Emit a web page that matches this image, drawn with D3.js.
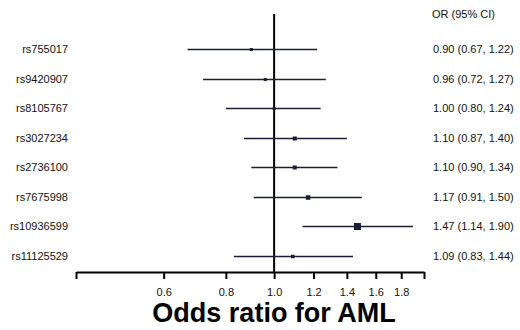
<!DOCTYPE html>
<html>
<head>
<meta charset="utf-8">
<script src="https://cdn.jsdelivr.net/npm/d3@7"></script>
<style>
  body { margin: 0; background: #fff; }
  text { font-family: "Liberation Sans", Arial, sans-serif; }
</style>
</head>
<body>
<svg width="520" height="330"></svg>
<script>
// Data
const snps = ["rs755017", "rs9420907", "rs8105767", "rs3027234", "rs2736100", "rs7675998", "rs10936599", "rs11125529"];
const or = [0.90, 0.96, 1.00, 1.10, 1.10, 1.17, 1.47, 1.09];
const lower = [0.67, 0.72, 0.80, 0.87, 0.90, 0.91, 1.14, 0.83];
const upper = [1.22, 1.27, 1.24, 1.40, 1.34, 1.50, 1.90, 1.44];
const boxSize = [3, 3, 3, 4, 4, 4.5, 7, 3.5];   // relative study weight
const tickValues = [0.6, 0.8, 1.0, 1.2, 1.4, 1.6, 1.8];

const svg = d3.select("svg");
const lineColor = "#1c1c3a";

// log scale, axis runs 0.4 -> 2.0
const x = d3.scaleLog()
    .domain([0.4, 2.0])
    .range([76, 424]);

const y = d3.scalePoint()
    .domain(snps)
    .range([49, 256]);

// snap row centres to the pixel grid so 1px lines stay sharp
function rowY(d) { return Math.round(y(d)) + 0.5; }

const axisY = 272;

// reference line at OR = 1
svg.append("line")
    .attr("x1", x(1)).attr("x2", x(1))
    .attr("y1", 14).attr("y2", axisY)
    .attr("stroke", "#000")
    .attr("stroke-width", 2);

// confidence intervals
svg.selectAll(".ci")
    .data(snps)
    .enter().append("line")
    .attr("class", "ci")
    .attr("x1", (d, i) => x(lower[i]))
    .attr("x2", (d, i) => x(upper[i]))
    .attr("y1", d => rowY(d))
    .attr("y2", d => rowY(d))
    .attr("stroke", lineColor)
    .attr("stroke-width", 1.3);

// point estimates
svg.selectAll(".box")
    .data(snps)
    .enter().append("rect")
    .attr("class", "box")
    .attr("x", (d, i) => x(or[i]) - boxSize[i] / 2)
    .attr("y", (d, i) => rowY(d) - boxSize[i] / 2)
    .attr("width", (d, i) => boxSize[i])
    .attr("height", (d, i) => boxSize[i])
    .attr("fill", lineColor);

// snp labels
svg.selectAll(".lab")
    .data(snps)
    .enter().append("text")
    .attr("class", "lab")
    .attr("x", 68)
    .attr("y", d => rowY(d))
    .attr("dy", "0.35em")
    .attr("text-anchor", "end")
    .attr("font-size", 11)
    .attr("fill", "#111")
    .text(d => d);

// OR text column
svg.append("text")
    .attr("x", 432)
    .attr("y", 14)
    .attr("dy", "0.35em")
    .attr("font-size", 11)
    .attr("fill", "#111")
    .text("OR (95% CI)");

svg.selectAll(".ortxt")
    .data(snps)
    .enter().append("text")
    .attr("class", "ortxt")
    .attr("x", 433)
    .attr("y", d => rowY(d))
    .attr("dy", "0.35em")
    .attr("font-size", 11)
    .attr("fill", "#111")
    .text((d, i) => or[i].toFixed(2) + " (" + lower[i].toFixed(2) + ", " + upper[i].toFixed(2) + ")");

// x axis
const axis = svg.append("g")
    .attr("transform", "translate(0," + axisY + ")")
    .call(d3.axisBottom(x)
        .tickValues(tickValues.concat([0.4, 2.0]))
        .tickFormat(d => tickValues.includes(d) ? d3.format(".1f")(d) : "")
        .tickSize(7)
        .tickSizeOuter(0));

axis.select(".domain").attr("stroke", "#000").attr("stroke-width", 2);
axis.selectAll(".tick line").attr("stroke", "#000").attr("stroke-width", 2);
axis.selectAll(".tick text")
    .attr("font-family", "'Liberation Sans', Arial, sans-serif")
    .attr("font-size", 11)
    .attr("fill", "#111")
    .attr("y", 16);

svg.append("text")
    .attr("x", x(1))
    .attr("y", 322)
    .attr("text-anchor", "middle")
    .attr("font-size", 27)
    .attr("font-weight", "bold")
    .attr("fill", "#000")
    .text("Odds ratio for AML");
</script>
</body>
</html>
